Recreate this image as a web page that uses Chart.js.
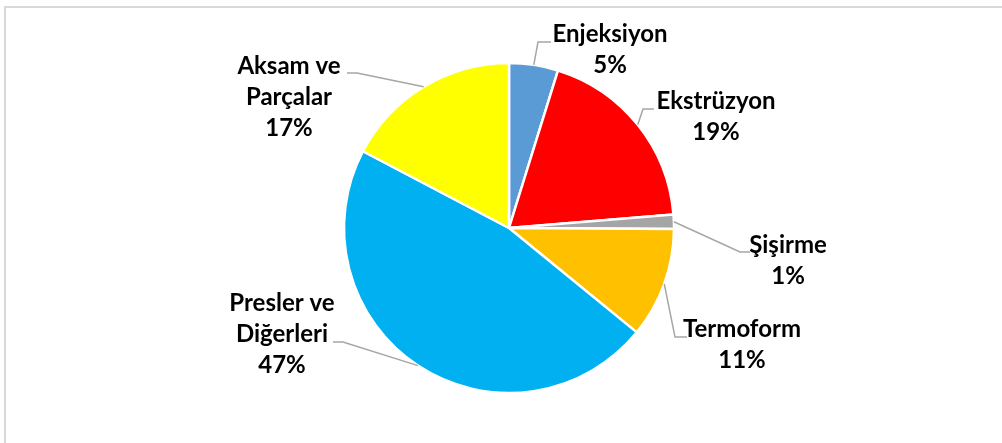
<!DOCTYPE html>
<html>
<head>
<meta charset="utf-8">
<script src="https://cdn.jsdelivr.net/npm/chart.js@4"></script>
<style>
  body { margin: 0; background: #fff; }
  #wrap { position: relative; width: 1002px; height: 443px; overflow: hidden; }
  #frame { position: absolute; left: 4px; top: 6px; width: 1100px; height: 500px;
           border-top: 2px solid #d9d9d9; border-left: 2px solid #d9d9d9; }
  #pie { position: absolute; left: 0; top: 0; }
</style>
</head>
<body>
<div id="wrap">
  <div id="frame"></div>
  <canvas id="pie" width="1002" height="443"></canvas>
</div>
<script>
// data (percent share, clockwise from 12 o'clock)
const categories = ['Enjeksiyon', 'Ekstrüzyon', 'Şişirme', 'Termoform', 'Presler ve Diğerleri', 'Aksam ve Parçalar'];
const shares = [4.8, 18.9, 1.4, 10.8, 46.8, 17.3];
const labelLines = [['Enjeksiyon'], ['Ekstrüzyon'], ['Şişirme'], ['Termoform'], ['Presler ve', 'Diğerleri'], ['Aksam ve', 'Parçalar']];

const sliceColors = ['#5B9BD5', '#FF0000', '#A5A5A5', '#FFC000', '#00B0F0', '#FFFF00'];

// label placement: text center x, first baseline y, leader elbow and end
const labelPos = [
    { x: 610, y: 42, elbow: [538, 42], end: [551, 42] },
    { x: 716, y: 109, elbow: [643, 109], end: [654, 109] },
    { x: 788, y: 253, elbow: [740, 252], end: [750, 252] },
    { x: 742, y: 337, elbow: [675, 337], end: [687, 337] },
    { x: 282, y: 311, elbow: [343, 342], end: [333, 342] },
    { x: 289, y: 74, elbow: [357, 73], end: [347, 73] }
];

const total = shares.reduce((a, b) => a + b, 0);
const pctText = shares.map(v => Math.round(v / total * 100) + '%');

const outsideLabels = {
    id: 'outsideLabels',
    afterDraw(chart) {
        const ctx = chart.ctx;
        const arcs = chart.getDatasetMeta(0).data;
        ctx.save();
        arcs.forEach((arc, i) => {
            const p = arc.getProps(['x', 'y', 'startAngle', 'endAngle', 'outerRadius'], true);
            const mid = (p.startAngle + p.endAngle) / 2;
            const sx = p.x + Math.cos(mid) * p.outerRadius;
            const sy = p.y + Math.sin(mid) * p.outerRadius;
            const lp = labelPos[i];

            ctx.strokeStyle = '#A6A6A6';
            ctx.lineWidth = 1.5;
            ctx.beginPath();
            ctx.moveTo(sx, sy);
            ctx.lineTo(lp.elbow[0], lp.elbow[1]);
            ctx.lineTo(lp.end[0], lp.end[1]);
            ctx.stroke();

            ctx.fillStyle = '#000';
            ctx.font = 'bold 24px Lato';
            ctx.textAlign = 'center';
            ctx.textBaseline = 'alphabetic';
            const lines = labelLines[i].concat([pctText[i]]);
            lines.forEach((t, k) => {
                ctx.fillText(t, lp.x, lp.y + k * 31);
            });
        });
        ctx.restore();
    }
};

new Chart(document.getElementById('pie'), {
    type: 'pie',
    data: {
        labels: categories,
        datasets: [{
            data: shares,
            backgroundColor: sliceColors,
            borderColor: '#ffffff',
            borderWidth: 2.5,
            radius: 165
        }]
    },
    options: {
        responsive: false,
        animation: false,
        layout: { padding: { top: 64, bottom: 51, left: 345, right: 329 } },
        plugins: {
            legend: { display: false },
            tooltip: { enabled: false }
        }
    },
    plugins: [outsideLabels]
});
</script>
</body>
</html>
